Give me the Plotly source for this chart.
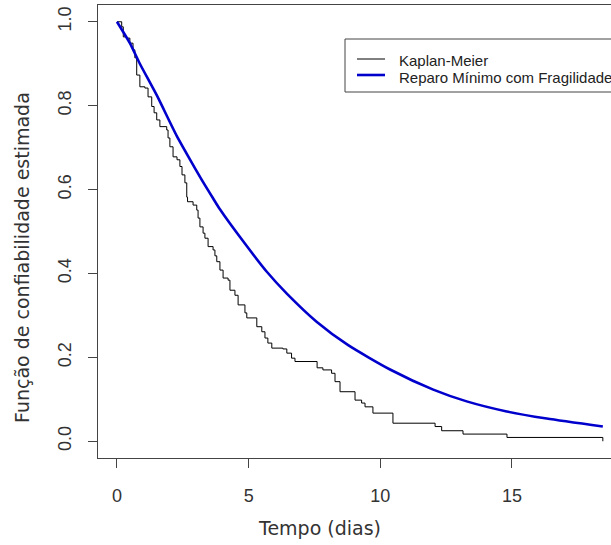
import plotly.graph_objects as go

# Kaplan-Meier step estimate (time in days, survival after each drop)
km_time = [0.0, 0.18, 0.24, 0.37, 0.49, 0.61, 0.68, 0.75, 0.87, 1.06, 1.18, 1.32, 1.41, 1.51,
           1.63, 1.89, 1.94, 2.01, 2.13, 2.28, 2.39, 2.47, 2.58, 2.65, 2.68, 2.89, 3.03, 3.08,
           3.15, 3.27, 3.34, 3.46, 3.65, 3.72, 3.79, 3.91, 4.03, 4.22, 4.29, 4.48, 4.60, 4.86,
           4.93, 5.31, 5.50, 5.62, 5.73, 5.88, 6.30, 6.45, 6.63, 6.76, 7.60, 7.82, 8.15, 8.28,
           8.47, 9.04, 9.29, 9.42, 9.72, 10.48, 12.08, 12.33, 13.14, 14.81, 18.45]
km_surv = [1.0, 0.988, 0.964, 0.961, 0.949, 0.933, 0.914, 0.873, 0.845, 0.842, 0.821, 0.798,
           0.783, 0.766, 0.750, 0.742, 0.723, 0.702, 0.678, 0.671, 0.655, 0.635, 0.616, 0.582,
           0.571, 0.563, 0.551, 0.532, 0.511, 0.496, 0.484, 0.464, 0.456, 0.442, 0.428, 0.408,
           0.389, 0.384, 0.360, 0.348, 0.325, 0.306, 0.294, 0.273, 0.261, 0.246, 0.234, 0.222,
           0.220, 0.210, 0.198, 0.190, 0.175, 0.170, 0.162, 0.142, 0.118, 0.098, 0.091, 0.082,
           0.067, 0.043, 0.035, 0.025, 0.017, 0.009, 0.0]

# Minimal repair with frailty model (smooth curve)
fr_time = [0.0, 0.49, 0.87, 1.51, 2.27, 2.77, 3.22, 3.66, 3.91, 4.80, 5.69, 6.45, 7.58,
           8.78, 10.37, 12.01, 13.28, 14.80, 16.32, 18.45]
fr_surv = [1.0, 0.949, 0.900, 0.825, 0.728, 0.672, 0.623, 0.578, 0.553, 0.476, 0.404, 0.352,
           0.285, 0.229, 0.171, 0.123, 0.095, 0.071, 0.054, 0.035]

x_ticks = [0, 5, 10, 15]
y_ticks = [0.0, 0.2, 0.4, 0.6, 0.8, 1.0]
y_tick_labels = ["0.0", "0.2", "0.4", "0.6", "0.8", "1.0"]
legend_labels = ["Kaplan-Meier", "Reparo Mínimo com Fragilidade"]

W, H = 611, 545
ML, MR, MT, MB = 98, 0, 5, 87
PW, PH = W - ML - MR, H - MT - MB


def px(x):
    return (x - ML) / PW


def py(y):
    return 1 - (y - MT) / PH


fig = go.Figure()
fig.add_trace(go.Scatter(x=km_time, y=km_surv, mode="lines", line=dict(color="black", width=1, shape="hv"),
                         name=legend_labels[0], showlegend=False))
fig.add_trace(go.Scatter(x=fr_time, y=fr_surv, mode="lines",
                         line=dict(color="#0000CD", width=2.6, shape="spline", smoothing=0.6),
                         name=legend_labels[1], showlegend=False))

axis_col = "#444444"
tickfont = dict(family="Liberation Sans, Arial, sans-serif", size=18, color="#333333")
titlefont = dict(family="DejaVu Sans, sans-serif", size=19, color="#333333")

fig.update_layout(
    width=W, height=H,
    margin=dict(l=ML, r=MR, t=MT, b=MB, autoexpand=False),
    paper_bgcolor="white", plot_bgcolor="white",
    xaxis=dict(range=[-0.72, 18.76], tickvals=x_ticks, ticktext=[str(v) for v in x_ticks],
               showgrid=False, zeroline=False, showline=True, mirror=True, linecolor=axis_col,
               linewidth=1, ticks="outside", ticklen=9, tickcolor=axis_col, tickfont=tickfont,
               ticklabelstandoff=12, automargin=False),
    yaxis=dict(range=[-0.04, 1.04], tickvals=y_ticks, ticktext=y_tick_labels,
               showgrid=False, zeroline=False, showline=True, mirror=False, linecolor=axis_col,
               linewidth=1, ticks="outside", ticklen=9, tickcolor=axis_col, tickfont=tickfont,
               tickangle=-90, ticklabelstandoff=10, automargin=False),
    showlegend=False,
)

# axis titles
fig.add_annotation(text="Tempo (dias)", xref="paper", yref="paper", x=px(319), y=py(528),
                   xanchor="center", yanchor="middle", showarrow=False, font=titlefont)
fig.add_annotation(text="Função de confiabilidade estimada", xref="paper", yref="paper",
                   x=px(22), y=py(258), xanchor="center", yanchor="middle", showarrow=False,
                   textangle=-90, font=titlefont)

# legend box (manual)
fig.add_shape(type="rect", xref="paper", yref="paper", x0=px(345), x1=px(640), y0=py(39), y1=py(92),
              line=dict(color=axis_col, width=1), fillcolor="white", layer="above")
fig.add_shape(type="line", xref="paper", yref="paper", x0=px(357), x1=px(385), y0=py(59), y1=py(59),
              line=dict(color="black", width=1), layer="above")
fig.add_shape(type="line", xref="paper", yref="paper", x0=px(357), x1=px(385), y0=py(75), y1=py(75),
              line=dict(color="#0000CD", width=2.6), layer="above")
legfont = dict(family="Liberation Sans, Arial, sans-serif", size=15, color="#222222")
fig.add_annotation(text=legend_labels[0], xref="paper", yref="paper", x=px(397), y=py(61),
                   xanchor="left", yanchor="middle", showarrow=False, font=legfont)
fig.add_annotation(text=legend_labels[1], xref="paper", yref="paper", x=px(397), y=py(77),
                   xanchor="left", yanchor="middle", showarrow=False, font=legfont)

fig.write_html("out.html", config={"displayModeBar": False},
               post_script="document.body.style.margin='0';document.body.style.overflow='hidden';")
